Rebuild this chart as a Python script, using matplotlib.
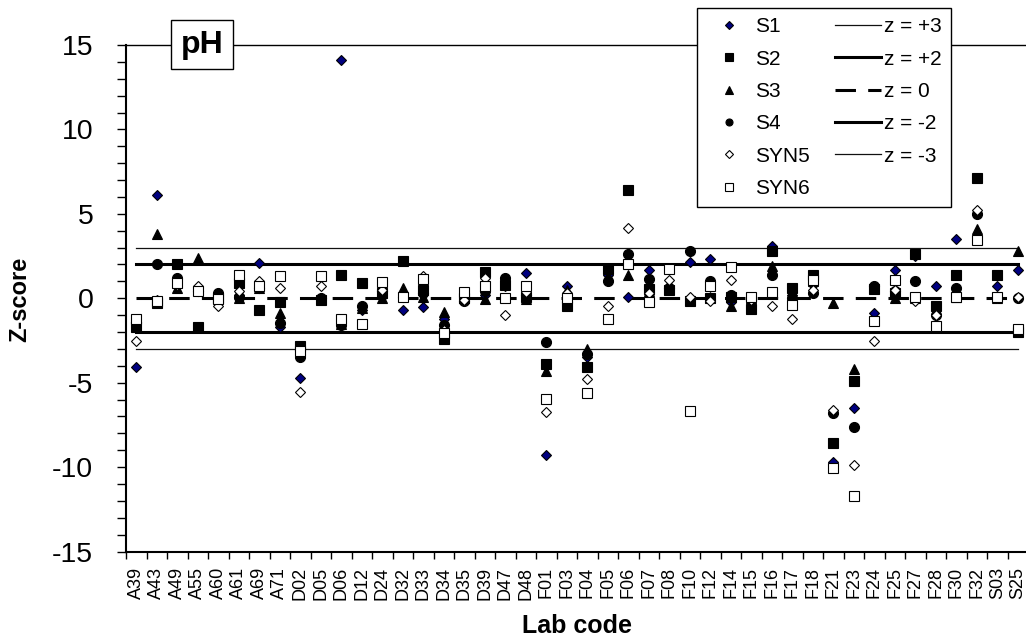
import numpy as np
import matplotlib
matplotlib.use('Agg')
import matplotlib.pyplot as plt
from matplotlib.lines import Line2D
from matplotlib.ticker import MultipleLocator, FixedLocator

plt.rcParams['font.family'] = ['Liberation Sans', 'DejaVu Sans']
plt.rcParams['axes.unicode_minus'] = False

# lab codes on the category axis
labs = ['A39', 'A43', 'A49', 'A55', 'A60', 'A61', 'A69', 'A71', 'D02', 'D05',
        'D06', 'D12', 'D24', 'D32', 'D33', 'D34', 'D35', 'D39', 'D47', 'D48',
        'F01', 'F03', 'F04', 'F05', 'F06', 'F07', 'F08', 'F10', 'F12', 'F14',
        'F15', 'F16', 'F17', 'F18', 'F21', 'F23', 'F24', 'F25', 'F27', 'F28',
        'F30', 'F32', 'S03', 'S25']

# z-scores per sample
s1 = [-4.1, 6.1, 0.8, 0.5, 0.1, 0.2, 2.1, -1.7, -4.7, 0.0,
      14.1, -0.7, 0.1, -0.7, -0.5, -1.25, 0.0, 0.2, 0.7, 1.5,
      -9.3, 0.7, -3.5, 1.4, 0.05, 1.7, 0.7, 2.15, 2.35, -0.25,
      -0.3, 3.1, 0.2, 0.8, -9.7, -6.5, -0.85, 1.7, 2.5, 0.7,
      3.5, 5.0, 0.7, 1.7]
s2 = [-1.7, -0.3, 2.0, -1.7, 0.0, 0.9, -0.7, -0.25, -2.8, -0.1,
      1.4, 0.9, 0.3, 2.2, 0.5, -2.4, 0.0, 1.55, 0.8, 0.1,
      -3.9, -0.45, -4.1, 1.75, 6.4, 0.55, 0.5, -0.15, 0.0, 0.1,
      -0.65, 2.8, 0.6, 1.35, -8.6, -4.9, 0.55, 0.3, 2.6, -0.45,
      1.4, 7.1, 1.4, -2.0]
s3 = [-1.5, 3.8, 0.6, 2.4, 0.1, 0.0, 0.6, -0.85, -3.0, 0.0,
      -1.5, -0.6, 0.0, 0.6, 0.1, -0.8, 0.0, -0.05, 0.9, -0.05,
      -4.3, 0.5, -3.0, 1.3, 1.4, 0.4, 0.8, 0.0, 0.1, -0.45,
      -0.2, 1.9, 0.1, 1.0, -0.3, -4.2, 0.6, 0.0, 0.0, -0.7,
      0.1, 4.1, 0.0, 2.8]
s4 = [-1.4, 2.0, 1.2, 0.4, 0.3, 0.1, 0.6, -1.45, -3.5, 0.0,
      -1.6, -0.45, 0.4, 0.1, 0.3, -1.6, -0.15, 0.4, 1.2, 0.2,
      -2.6, 0.2, -3.3, 1.0, 2.6, 1.15, 0.6, 2.8, 1.0, 0.2,
      -0.1, 1.4, 0.0, 0.3, -6.8, -7.6, 0.75, 0.4, 1.0, -1.0,
      0.6, 5.0, 0.1, 0.0]
syn5 = [-2.55, -0.1, 0.8, 0.7, -0.45, 0.4, 1.0, 0.6, -5.55, 0.7,
        -1.3, -1.5, 0.5, 0.1, 1.3, -1.9, -0.1, 1.2, -1.0, 0.35,
        -6.75, 0.3, -4.8, -0.45, 4.15, 0.3, 1.1, 0.1, -0.15, 1.1,
        -0.1, -0.45, -1.2, 0.5, -6.6, -9.9, -2.55, 0.5, -0.15, -1.0,
        0.1, 5.2, 0.0, 0.05]
syn6 = [-1.2, -0.15, 0.9, 0.45, -0.05, 1.4, 0.75, 1.3, -3.15, 1.3,
        -1.2, -1.55, 0.95, 0.05, 1.15, -2.05, 0.35, 0.75, 0.0, 0.75,
        -5.95, 0.0, -5.6, -1.25, 2.05, -0.2, 1.75, -6.7, 0.75, 1.85,
        0.05, 0.35, -0.4, 1.1, -10.05, -11.7, -1.35, 1.1, 0.05, -1.65,
        0.05, 3.45, 0.05, -1.8]
series_names = ['S1', 'S2', 'S3', 'S4', 'SYN5', 'SYN6']

# reference z levels
z_levels = [3, 2, 0, -2, -3]
z_names = ['z = +3', 'z = +2', 'z = 0', 'z = -2', 'z = -3']

W, H = 1026, 642
fig = plt.figure(figsize=(W / 100, H / 100), dpi=100)
ax = fig.add_axes([126 / W, 1 - 551.5 / H, 902 / W, 506.5 / H])

x = np.arange(len(labs))

# z lines, drawn from first to last lab
line_styles = [dict(lw=0.9, ls='-', color='#111111'),
               dict(lw=2.2, ls='-', color='black'),
               dict(lw=2.2, ls=(0, (6.7, 4)), color='black'),
               dict(lw=2.2, ls='-', color='black'),
               dict(lw=0.9, ls='-', color='#111111')]
z_handles = []
for z, st, name in zip(z_levels, line_styles, z_names):
    ln, = ax.plot(x, np.full(len(labs), z), label=name, **st)
    z_handles.append(ln)

marker_styles = [dict(marker='D', ms=5.3, mfc='#000080'),
                 dict(marker='s', ms=7.3, mfc='black'),
                 dict(marker='^', ms=7.5, mfc='black'),
                 dict(marker='o', ms=7.2, mfc='black'),
                 dict(marker='D', ms=5.3, mfc='white'),
                 dict(marker='s', ms=7.3, mfc='white')]
s_handles = []
for vals, st, name in zip([s1, s2, s3, s4, syn5, syn6], marker_styles, series_names):
    h, = ax.plot(x, vals, ls='none', mec='black', mew=0.8, label=name, **st)
    s_handles.append(h)

ax.set_xlim(-0.5, len(labs) - 0.5)
ax.set_ylim(-15, 15)
ax.set_yticks(np.arange(-15, 16, 5))
ax.yaxis.set_minor_locator(MultipleLocator(1))
ax.tick_params(axis='y', which='both', direction='out', length=6.5, width=1,
               pad=17, labelsize=20.5)

ax.set_xticks(x)
ax.set_xticklabels(labs, rotation=90, fontsize=13)
ax.xaxis.set_minor_locator(FixedLocator(np.arange(len(labs) + 1) - 0.5))
ax.tick_params(axis='x', which='major', length=0, pad=11)
ax.tick_params(axis='x', which='minor', direction='out', length=5, width=1)

for side in ['left', 'bottom']:
    ax.spines[side].set_linewidth(1.5)
ax.spines['top'].set_linewidth(1.0)
ax.spines['right'].set_visible(False)

fig.text(20 / W, 1 - 299 / H, 'Z-score', rotation=90, ha='center', va='center',
         fontsize=17, fontweight='bold')
fig.text(577 / W, 1 - 633 / H, 'Lab code', ha='center', va='baseline',
         fontsize=18, fontweight='bold')

fig.text(202 / W, 1 - 44.5 / H, 'pH', ha='center', va='center', fontsize=23,
         fontweight='bold',
         bbox=dict(boxstyle='square,pad=0.3', fc='white', ec='black', lw=1))

blank = Line2D([], [], ls='none', marker='none')
leg = fig.legend(s_handles + z_handles + [blank], series_names + z_names + [''],
                 ncol=2, loc='upper left', bbox_to_anchor=(697 / W, 1 - 8 / H),
                 bbox_transform=fig.transFigure, borderaxespad=0,
                 fontsize=15, markerscale=0.7, handlelength=2.2,
                 handletextpad=0.15, columnspacing=1.2, labelspacing=0.64,
                 borderpad=0.45, fancybox=False, framealpha=1,
                 edgecolor='black')
leg.get_frame().set_linewidth(1.0)

fig.savefig('out.png', dpi=100)
